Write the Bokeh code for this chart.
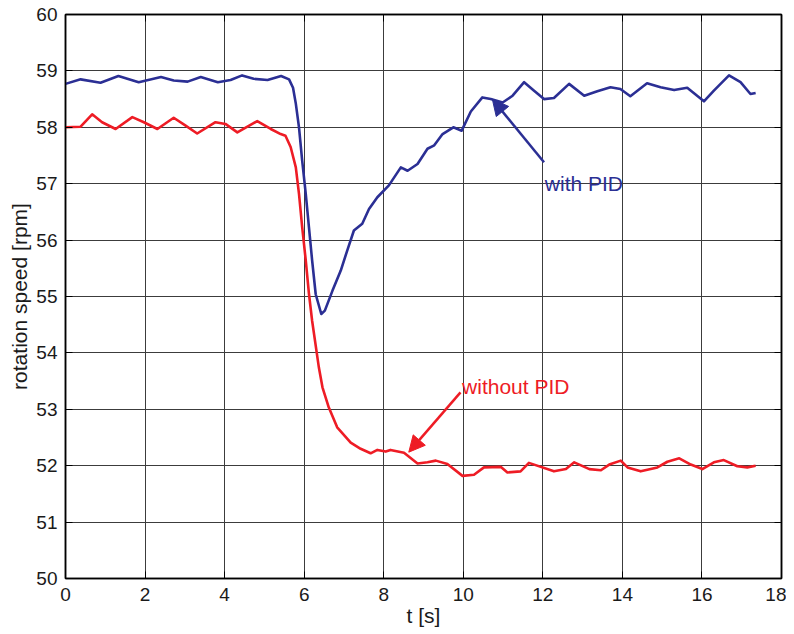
from bokeh.plotting import figure
from bokeh.models import (Range1d, LinearAxis, SingleIntervalTicker, Arrow,
                          NormalHead, Label)
from bokeh.embed import file_html
from bokeh.resources import INLINE

# ---- data ----
blue_t = [0, 0.38, 0.88, 1.33, 1.84, 2.4, 2.72, 3.07, 3.4, 3.83, 4.15, 4.44,
          4.73, 5.08, 5.42, 5.62, 5.72, 5.79, 5.87, 5.95, 6.04, 6.12, 6.2,
          6.29, 6.43, 6.52, 6.71, 6.92, 7.08, 7.25, 7.46, 7.63, 7.84, 8.13,
          8.43, 8.6, 8.85, 9.1, 9.27, 9.48, 9.75, 9.96, 10.19, 10.48, 10.69,
          10.99, 11.24, 11.53, 11.78, 12.03, 12.28, 12.66, 13.04, 13.37,
          13.7, 13.95, 14.2, 14.62, 14.96, 15.3, 15.63, 16.05, 16.3, 16.68,
          16.97, 17.22, 17.35]
blue_v = [58.77, 58.85, 58.79, 58.91, 58.80, 58.89, 58.83, 58.81, 58.89,
          58.80, 58.84, 58.92, 58.86, 58.84, 58.91, 58.85, 58.70, 58.42,
          58.0, 57.41, 56.82, 56.23, 55.64, 55.04, 54.69, 54.75, 55.1, 55.46,
          55.81, 56.17, 56.29, 56.55, 56.76, 56.97, 57.29, 57.23, 57.35,
          57.62, 57.68, 57.88, 58.0, 57.94, 58.28, 58.53, 58.5, 58.44, 58.56,
          58.8, 58.65, 58.5, 58.52, 58.77, 58.56, 58.64, 58.71, 58.68, 58.55,
          58.78, 58.71, 58.66, 58.7, 58.46, 58.65, 58.92, 58.8, 58.59, 58.61]

red_t = [0, 0.38, 0.67, 0.92, 1.26, 1.68, 1.97, 2.31, 2.72, 3.02, 3.31, 3.77,
         4.02, 4.32, 4.82, 5.16, 5.41, 5.53, 5.66, 5.79, 5.87, 5.95, 6.04,
         6.12, 6.2, 6.37, 6.46, 6.62, 6.83, 7.17, 7.42, 7.67, 7.84, 8.05,
         8.17, 8.51, 8.85, 9.1, 9.31, 9.6, 9.98, 10.27, 10.52, 10.94, 11.11,
         11.44, 11.65, 12.28, 12.58, 12.79, 13.17, 13.46, 13.67, 13.96,
         14.13, 14.46, 14.88, 15.13, 15.43, 15.72, 16.01, 16.3, 16.55,
         16.89, 17.14, 17.35]
red_v = [58.0, 58.01, 58.23, 58.09, 57.97, 58.18, 58.09, 57.97, 58.17, 58.03,
         57.89, 58.09, 58.06, 57.91, 58.11, 57.97, 57.88, 57.85, 57.65,
         57.29, 56.82, 56.23, 55.64, 55.05, 54.57, 53.74, 53.39, 53.03,
         52.68, 52.41, 52.3, 52.22, 52.28, 52.25, 52.28, 52.23, 52.04, 52.06,
         52.09, 52.03, 51.82, 51.84, 51.97, 51.98, 51.88, 51.9, 52.05, 51.9,
         51.94, 52.06, 51.94, 51.92, 52.02, 52.09, 51.97, 51.9, 51.97, 52.07,
         52.13, 52.02, 51.94, 52.06, 52.1, 51.99, 51.97, 52.0]

x_label = "t [s]"
y_label = "rotation speed [rpm]"
label_with = "with PID"
label_without = "without PID"
# annotation anchor points (data coordinates)
with_arrow = (12.03, 57.38, 10.73, 58.50)
without_arrow = (9.93, 53.30, 8.63, 52.24)
with_text_pos = (12.05, 57.01)
without_text_pos = (9.97, 53.40)

BLUE = "#2b2f94"
RED = "#ee1c25"
FONT = "Liberation Sans"

p = figure(width=786, height=626, frame_width=716, frame_height=564,
           x_range=Range1d(0, 18), y_range=Range1d(50, 60),
           output_backend="svg", toolbar_location=None,
           min_border_left=65, min_border_right=5, min_border_top=14,
           min_border_bottom=48)

p.background_fill_color = "white"
p.border_fill_color = "white"
p.outline_line_color = "black"
p.outline_line_width = 1.5

for ax, tick_int in ((p.xaxis[0], 2), (p.yaxis[0], 1)):
    ax.ticker = SingleIntervalTicker(interval=tick_int)
    ax.axis_line_color = "black"
    ax.axis_line_width = 1.5
    ax.major_tick_in = 7
    ax.major_tick_out = 0
    ax.minor_tick_in = 0
    ax.minor_tick_out = 0
    ax.major_tick_line_color = "black"
    ax.major_label_text_font = FONT
    ax.major_label_text_font_size = "19px"
    ax.major_label_text_color = "#1a1a1a"
    ax.axis_label_text_font = FONT
    ax.axis_label_text_font_size = "21px"
    ax.axis_label_text_font_style = "normal"
    ax.axis_label_text_color = "#1a1a1a"

p.xaxis[0].axis_label = x_label
p.yaxis[0].axis_label = y_label
p.xaxis[0].major_label_standoff = 9
p.xaxis[0].axis_label_standoff = 0
p.yaxis[0].major_label_standoff = 8
p.yaxis[0].axis_label_standoff = 2

# mirrored ticks on top/right (labels not drawn)
for loc, tick_int in (("above", 2), ("right", 1)):
    ax = LinearAxis(ticker=SingleIntervalTicker(interval=tick_int))
    ax.major_label_text_font_size = "1px"
    ax.major_label_text_color = None
    ax.major_label_standoff = 0
    ax.major_tick_in = 7
    ax.major_tick_out = 0
    ax.minor_tick_in = 0
    ax.minor_tick_out = 0
    ax.axis_line_color = "black"
    ax.axis_line_width = 1.5
    p.add_layout(ax, loc)

for g, tick_int in ((p.xgrid[0], 2), (p.ygrid[0], 1)):
    g.ticker = SingleIntervalTicker(interval=tick_int)
    g.grid_line_color = "#3c3c3c"
    g.grid_line_width = 1

p.line(blue_t, blue_v, line_color=BLUE, line_width=2.6, line_join="round")
p.line(red_t, red_v, line_color=RED, line_width=2.6, line_join="round")

p.add_layout(Arrow(x_start=with_arrow[0], y_start=with_arrow[1],
                   x_end=with_arrow[2], y_end=with_arrow[3],
                   line_color=BLUE, line_width=2.5,
                   end=NormalHead(size=16, fill_color=BLUE, line_color=BLUE)))
p.add_layout(Arrow(x_start=without_arrow[0], y_start=without_arrow[1],
                   x_end=without_arrow[2], y_end=without_arrow[3],
                   line_color=RED, line_width=2.5,
                   end=NormalHead(size=16, fill_color=RED, line_color=RED)))

p.add_layout(Label(x=with_text_pos[0], y=with_text_pos[1], text=label_with,
                   text_font=FONT, text_font_size="21px", text_color=BLUE,
                   text_baseline="alphabetic"))
p.add_layout(Label(x=without_text_pos[0], y=without_text_pos[1],
                   text=label_without, text_font=FONT, text_font_size="21px",
                   text_color=RED, text_baseline="alphabetic"))

open("out.html", "w").write(file_html(p, INLINE))
